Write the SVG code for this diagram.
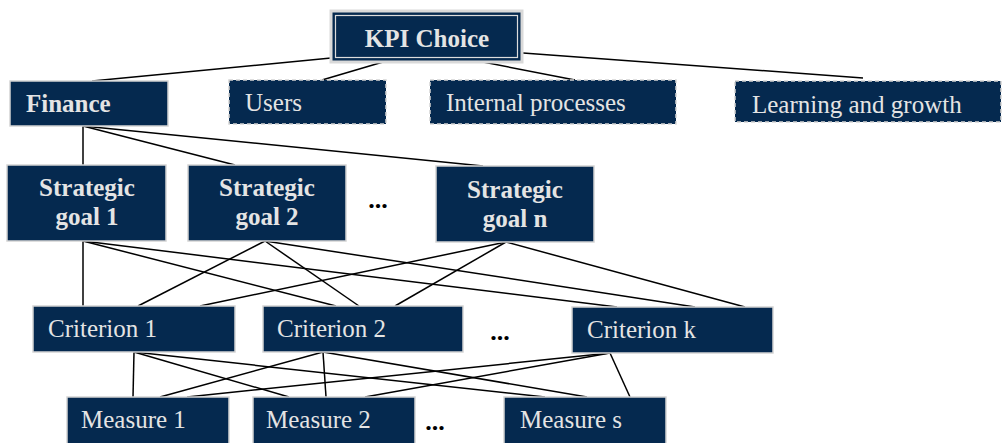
<svg xmlns="http://www.w3.org/2000/svg" width="1003" height="443" viewBox="0 0 1003 443">
<style>
.box{fill:#05294f;stroke:#d4d4d4;stroke-width:1.5}
.dash{fill:#05294f;stroke:#d4d4d4;stroke-width:1.5;stroke-dasharray:4 3}
.t{font-family:"Liberation Serif",serif;font-size:25px;fill:#e4e4e4}
.b{font-family:"Liberation Serif",serif;font-size:25px;font-weight:bold;fill:#e4e4e4}
.dots{font-family:"Liberation Serif",serif;font-size:26px;font-weight:bold;fill:#000;text-anchor:middle}
.c{text-anchor:middle}
#connectors line{stroke:#000;stroke-width:1.5}
</style>
<rect width="1003" height="443" fill="#fff"/>
<g id="connectors">
<line x1="92" y1="81" x2="331" y2="58"/>
<line x1="322" y1="80" x2="383" y2="62"/>
<line x1="483" y1="62" x2="575" y2="80"/>
<line x1="523" y1="53" x2="863" y2="78"/>
<line x1="83" y1="126" x2="83" y2="165"/>
<line x1="83" y1="126" x2="235" y2="165"/>
<line x1="83" y1="126" x2="483" y2="166"/>
<line x1="83" y1="241" x2="83" y2="306"/>
<line x1="83" y1="241" x2="336" y2="306"/>
<line x1="83" y1="241" x2="617" y2="307"/>
<line x1="265" y1="241" x2="138" y2="306"/>
<line x1="265" y1="241" x2="359" y2="306"/>
<line x1="265" y1="241" x2="695" y2="307"/>
<line x1="506" y1="242" x2="200" y2="306"/>
<line x1="506" y1="242" x2="395" y2="306"/>
<line x1="506" y1="242" x2="745" y2="307"/>
<line x1="134" y1="352" x2="133" y2="397"/>
<line x1="134" y1="352" x2="289" y2="397"/>
<line x1="134" y1="352" x2="545" y2="397"/>
<line x1="323" y1="352" x2="160" y2="397"/>
<line x1="323" y1="352" x2="326" y2="397"/>
<line x1="323" y1="352" x2="587" y2="397"/>
<line x1="610" y1="353" x2="187" y2="397"/>
<line x1="610" y1="353" x2="365" y2="397"/>
<line x1="610" y1="353" x2="630" y2="397"/>
</g>
<g id="kpi">
<rect x="331" y="11" width="191" height="51" fill="#05294f" stroke="#d9d9d9" stroke-width="3"/>
<rect x="335.5" y="15.5" width="182" height="42" fill="none" stroke="#dcdcdc" stroke-width="1.2"/>
<text class="b c" x="427" y="47">KPI Choice</text>
</g>
<g id="finance"><rect class="box" x="10" y="81" width="158" height="45"/><text class="b" x="26" y="112">Finance</text></g>
<g id="users"><rect class="dash" x="229" y="80" width="157" height="44"/><text class="t" x="245" y="111">Users</text></g>
<g id="internal"><rect class="dash" x="430" y="80" width="246" height="44"/><text class="t" x="446" y="111">Internal processes</text></g>
<g id="learning"><rect class="dash" x="735" y="81" width="266" height="41"/><text class="t" x="752" y="113">Learning and growth</text></g>
<g id="sg1"><rect class="box" x="7" y="165" width="159" height="76"/><text class="b c" x="87" y="196">Strategic</text><text class="b c" x="87" y="225">goal 1</text></g>
<g id="sg2"><rect class="box" x="188" y="165" width="158" height="76"/><text class="b c" x="267" y="196">Strategic</text><text class="b c" x="267" y="225">goal 2</text></g>
<text class="dots" x="378" y="208">...</text>
<g id="sgn"><rect class="box" x="436" y="166" width="158" height="76"/><text class="b c" x="515" y="198">Strategic</text><text class="b c" x="515" y="227">goal n</text></g>
<g id="crit1"><rect class="box" x="33" y="306" width="202" height="46"/><text class="t" x="48" y="337">Criterion 1</text></g>
<g id="crit2"><rect class="box" x="263" y="306" width="200" height="46"/><text class="t" x="277" y="337">Criterion 2</text></g>
<text class="dots" x="500" y="340">...</text>
<g id="critk"><rect class="box" x="572" y="307" width="201" height="46"/><text class="t" x="587" y="338">Criterion k</text></g>
<g id="m1"><rect class="box" x="67" y="397" width="162" height="50"/><text class="t" x="81" y="428">Measure 1</text></g>
<g id="m2"><rect class="box" x="253" y="397" width="162" height="50"/><text class="t" x="266" y="428">Measure 2</text></g>
<text class="dots" x="435" y="430">...</text>
<g id="ms"><rect class="box" x="504" y="397" width="162" height="50"/><text class="t" x="520" y="428">Measure s</text></g>
</svg>
